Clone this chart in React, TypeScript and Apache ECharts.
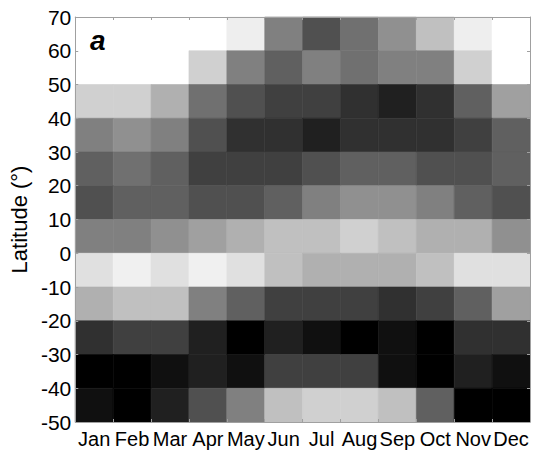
import React, { useEffect, useRef } from "react";
import * as echarts from "echarts";

// Month categories along the x axis
const months = ["Jan", "Feb", "Mar", "Apr", "May", "Jun", "Jul", "Aug", "Sep", "Oct", "Nov", "Dec"];

// Lower edge of each 10° latitude band, north to south
const bandStarts = [60, 50, 40, 30, 20, 10, 0, -10, -20, -30, -40, -50];

// Grey intensity (0 = black, 255 = white) per band, Jan..Dec
const band60 = [255, 255, 255, 255, 238, 128, 80, 112, 144, 192, 238, 255];
const band50 = [255, 255, 255, 208, 128, 96, 128, 112, 128, 128, 208, 255];
const band40 = [208, 208, 176, 112, 80, 64, 64, 48, 32, 48, 96, 160];
const band30 = [128, 144, 128, 80, 48, 48, 32, 48, 48, 48, 64, 96];
const band20 = [96, 112, 96, 64, 64, 64, 80, 96, 96, 80, 80, 96];
const band10 = [80, 96, 96, 80, 80, 96, 128, 144, 144, 128, 96, 80];
const band0 = [128, 128, 144, 160, 176, 192, 192, 208, 192, 176, 176, 144];
const bandM10 = [224, 240, 224, 240, 224, 192, 176, 176, 176, 192, 224, 224];
const bandM20 = [176, 192, 192, 128, 96, 64, 64, 64, 48, 64, 96, 160];
const bandM30 = [48, 64, 64, 32, 0, 32, 16, 0, 16, 0, 48, 48];
const bandM40 = [0, 0, 16, 32, 16, 64, 64, 64, 16, 0, 32, 16];
const bandM50 = [16, 0, 32, 80, 128, 192, 208, 208, 192, 96, 0, 0];

const bands = [band60, band50, band40, band30, band20, band10, band0, bandM10, bandM20, bandM30, bandM40, bandM50];

// Latitude axis settings
const latMin = -50;
const latMax = 70;
const latStep = 10;

const frameColor = "#a0a0a0";
const font = "'Liberation Sans', Arial, sans-serif";

export default function App() {
  const ref = useRef<HTMLDivElement>(null);

  useEffect(() => {
    if (!ref.current) return;
    const chart = echarts.init(ref.current, undefined, { renderer: "svg" });

    const cells: number[][] = [];
    bands.forEach((row, r) => {
      row.forEach((v, m) => {
        cells.push([m, bandStarts[r], v]);
      });
    });

    const tickStyle = { show: true, inside: true, length: 3, lineStyle: { color: frameColor, width: 1 } };
    const lineStyle = { show: true, onZero: false, lineStyle: { color: frameColor, width: 1 } };

    chart.setOption({
      animation: false,
      textStyle: { fontFamily: font },
      grid: { left: 73, top: 17, right: 5, bottom: 35, containLabel: false },
      visualMap: {
        show: false,
        type: "continuous",
        min: 0,
        max: 255,
        dimension: 2,
        seriesIndex: 0,
        inRange: { color: ["#000000", "#ffffff"] },
      },
      xAxis: [
        {
          type: "category",
          data: months,
          position: "bottom",
          boundaryGap: true,
          axisLine: lineStyle,
          axisTick: tickStyle,
          axisLabel: { interval: 0, color: "#000", fontSize: 20, margin: 7, fontFamily: font },
          splitLine: { show: false },
          z: 10,
        },
        {
          type: "category",
          data: months,
          position: "top",
          boundaryGap: true,
          axisLine: lineStyle,
          axisTick: tickStyle,
          axisLabel: { show: false },
          splitLine: { show: false },
          z: 10,
        },
      ],
      yAxis: [
        {
          type: "value",
          min: latMin,
          max: latMax,
          interval: latStep,
          position: "left",
          name: "Latitude (°)",
          nameLocation: "middle",
          nameGap: 40,
          nameTextStyle: { color: "#000", fontSize: 22, fontFamily: font },
          axisLine: lineStyle,
          axisTick: tickStyle,
          axisLabel: { color: "#000", fontSize: 21, margin: 4, fontFamily: font },
          splitLine: { show: false },
          z: 10,
        },
        {
          type: "value",
          min: latMin,
          max: latMax,
          interval: latStep,
          position: "right",
          axisLine: lineStyle,
          axisTick: tickStyle,
          axisLabel: { show: false },
          splitLine: { show: false },
          z: 10,
        },
      ],
      graphic: [
        {
          type: "text",
          left: 90,
          top: 26,
          z: 20,
          style: {
            text: "a",
            fill: "#000",
            font: `italic bold 28px ${font}`,
          },
        },
      ],
      series: [
        {
          type: "custom",
          xAxisIndex: 0,
          yAxisIndex: 0,
          data: cells,
          encode: { x: 0, y: 1 },
          renderItem: (params: any, api: any) => {
            const m = api.value(0);
            const lat = api.value(1);
            const lo = api.coord([m, lat]);
            const hi = api.coord([m, lat + latStep]);
            const w = api.size([1, 0])[0];
            const color = api.visual("color");
            return {
              type: "rect",
              shape: { x: lo[0] - w / 2, y: hi[1], width: w, height: lo[1] - hi[1] },
              style: { fill: color, stroke: color, lineWidth: 0.6 },
            };
          },
        },
      ],
    });

    return () => chart.dispose();
  }, []);

  return (
    <div
      ref={ref}
      style={{ position: "absolute", left: 0, top: 0, width: 535, height: 457 }}
    />
  );
}
